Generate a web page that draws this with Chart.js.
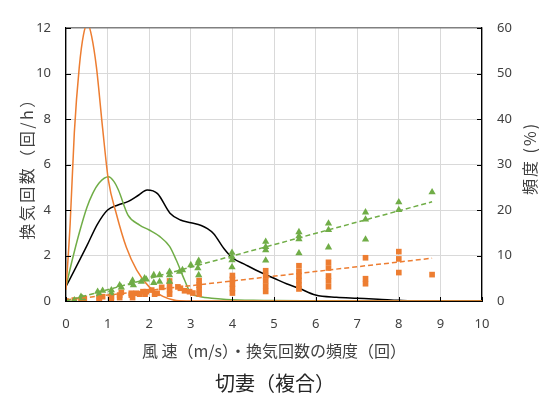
<!DOCTYPE html>
<html><head><meta charset="utf-8">
<script src="https://cdn.jsdelivr.net/npm/chart.js@4"></script>
<style>html,body{margin:0;padding:0;background:#fff}</style>
</head><body>
<canvas id="c" width="539" height="394"></canvas>
<script>
// ---- data ----
const xTickValues = [0,1,2,3,4,5,6,7,8,9,10];
const leftTickValues = [0,2,4,6,8,10,12];
const rightTickValues = [0,10,20,30,40,50,60];

// frequency curves (%), right axis
const blackX = [0,0.25,0.5,0.75,1.0,1.25,1.5,1.75,1.95,2.2,2.5,2.75,3.0,3.25,3.4,3.55,3.8,4.0,4.33,4.7,5.0,5.3,5.6,6.0,6.5,7.0,7.5,8.0,8.5,9,9.5,10];
const blackY = [3.2,7.6,12.1,16.8,20.0,21.1,21.9,23.3,24.4,23.6,19.3,17.8,17.2,16.6,15.9,14.8,11.5,9.5,7.9,6.2,5.0,3.8,2.8,1.3,0.8,0.6,0.4,0.15,0,0,0,0];
const greenX = [0,0.15,0.32,0.5,0.64,0.8,1.02,1.15,1.26,1.49,1.77,2.0,2.25,2.49,2.65,2.85,3.0,3.21,3.5,3.85,4.5,5,6,7,8,9,10];
const greenY = [3.2,9,15,20.5,23.6,26,27.3,26.3,24.4,18.9,16.7,15.6,14.2,12,9,4.6,1.7,1.0,0.6,0.35,0.15,0.1,0.05,0,0,0,0];
const orangeX = [0,0.1,0.2,0.32,0.42,0.52,0.62,0.73,0.88,1.02,1.2,1.45,1.7,2.0,2.33,2.65,3,4,5,6,7,8,9,10];
const orangeY = [2.5,17,37,51.5,58.5,61,58,51.5,38,26.5,19.5,11.8,6.8,3.1,1.0,0.1,0,0,0,0,0,0,0,0];

// air change rate points (回/h), left axis
const triX = [0,0.2,0.36,0.4,0.76,0.8,0.88,1.09,1.09,1.29,1.33,1.57,1.6,1.62,1.81,1.89,1.93,2.11,2.11,2.25,2.25,2.49,2.49,2.49,2.73,2.8,3.0,3.17,3.19,3.17,3.19,3.99,3.99,3.99,3.99,4.8,4.8,4.8,4.8,5.6,5.6,5.6,5.6,6.31,6.31,6.31,7.2,7.2,7.2,8.0,8.0,8.8];
const triY = [0,0.04,0.19,0.12,0.41,0.3,0.45,0.48,0.35,0.7,0.6,0.78,0.9,0.7,0.85,1.0,0.95,1.14,0.8,1.14,0.85,1.29,1.14,0.85,1.29,1.36,1.58,1.66,1.77,1.44,1.14,2.12,1.95,1.8,1.49,2.61,2.38,2.24,1.78,3.03,2.85,2.72,2.1,3.41,3.12,2.36,3.9,3.59,2.71,4.34,4.0,4.78];
const sqX = [0,0.2,0.36,0.44,0.8,0.8,0.8,0.88,1.09,1.09,1.29,1.29,1.33,1.57,1.57,1.6,1.69,1.77,1.85,1.9,2.13,1.93,2.06,2.19,2.3,2.49,2.49,2.49,2.49,2.69,2.75,2.85,2.97,3.05,3.2,3.2,3.2,3.2,4,4,4,4,4,4.8,4.8,4.8,4.8,4.8,5.6,5.6,5.6,5.6,5.6,5.6,6.31,6.31,6.31,6.31,6.31,7.2,7.2,7.2,8,8,8,8.8];
const sqY = [0,0.04,0.04,0.11,0.04,0.12,0.19,0.19,0.19,0.1,0.26,0.15,0.38,0.26,0.34,0.15,0.34,0.3,0.41,0.3,0.3,0.41,0.48,0.34,0.6,0.3,0.5,0.7,0.88,0.62,0.56,0.45,0.41,0.35,0.3,0.5,0.7,0.9,0.35,0.55,0.75,0.95,1.12,0.42,0.65,0.88,1.1,1.33,1.55,1.3,1.1,0.9,0.7,0.53,1.7,1.45,1.1,0.88,0.63,1.9,0.98,0.76,2.17,1.85,1.25,1.16];

// linear trend lines (end points)
const triTrendX = [0,8.8], triTrendY = [0,4.36];
const sqTrendX = [0,8.8], sqTrendY = [0.05,1.88];

const pts = (xs, ys) => xs.map((x,i)=>({x, y: ys[i]}));

const ORANGE = '#ED7D31', GREEN = '#70AD47', TXT = '#404040';
const TICKFONT = {family:'"Noto Sans", sans-serif', size:13};
const JP = '"Noto Sans CJK JP", "Noto Sans", sans-serif';
const TITLE = '切妻（複合）';

const deco = {
  id:'deco',
  afterDatasetsDraw(chart){
    const {ctx, chartArea:a, scales} = chart;
    ctx.save();
    ctx.strokeStyle = '#000'; ctx.lineWidth = 1;
    ctx.beginPath();
    scales.y.ticks.forEach(t=>{ const p = Math.round(scales.y.getPixelForValue(t.value))+0.5; ctx.moveTo(a.left, p); ctx.lineTo(a.left+5, p); });
    scales.y2.ticks.forEach(t=>{ const p = Math.round(scales.y2.getPixelForValue(t.value))+0.5; ctx.moveTo(a.right-5, p); ctx.lineTo(a.right, p); });
    scales.x.ticks.forEach(t=>{ const p = Math.round(scales.x.getPixelForValue(t.value))+0.5; ctx.moveTo(p, a.bottom); ctx.lineTo(p, a.bottom-4); });
    ctx.stroke();
    ctx.restore();
  },
  afterDraw(chart){
    const {ctx, chartArea:a} = chart;
    const cy = (a.top + a.bottom)/2;
    ctx.save();
    ctx.fillStyle = TXT;
    ctx.font = '16px ' + JP;
    ctx.textAlign = 'center'; ctx.textBaseline = 'middle';
    try { ctx.letterSpacing = '2.5px'; } catch(e) {}
    ctx.save(); ctx.translate(27, cy); ctx.rotate(-Math.PI/2); ctx.fillText('換気回数（回/h）', 0, 0); ctx.restore();
    try { ctx.letterSpacing = '2px'; } catch(e) {}
    ctx.save(); ctx.translate(530, cy - 6); ctx.rotate(-Math.PI/2); ctx.fillText('頻度 (%)', 0, 0); ctx.restore();
    try { ctx.letterSpacing = '0px'; } catch(e) {}
    ctx.fillStyle = '#262626';
    ctx.font = '20px ' + JP;
    ctx.fillText(TITLE, 275, 383);
    ctx.restore();
  }
};

const curve = (label, xs, ys, color, order) => ({
  type:'line', label, data: pts(xs, ys), yAxisID:'y2', borderColor: color, borderWidth: 1.5,
  pointRadius: 0, showLine: true, fill: false, cubicInterpolationMode: 'monotone', order
});

new Chart(document.getElementById('c'), {
  type: 'scatter',
  data: { datasets: [
    {type:'line', label:'近似(換気回数△)', data: pts(triTrendX, triTrendY), yAxisID:'y', borderColor: GREEN, borderWidth: 1.5, borderDash:[5,3], pointRadius:0, showLine:true, order:1},
    {type:'line', label:'近似(換気回数□)', data: pts(sqTrendX, sqTrendY), yAxisID:'y', borderColor: ORANGE, borderWidth: 1.5, borderDash:[5,3], pointRadius:0, showLine:true, order:1},
    {label:'換気回数△', data: pts(triX, triY), yAxisID:'y', pointStyle:'triangle', pointRadius:4.2, backgroundColor: GREEN, borderColor: GREEN, borderWidth:0, order:2},
    {label:'換気回数□', data: pts(sqX, sqY), yAxisID:'y', pointStyle:'rect', pointRadius:4, backgroundColor: ORANGE, borderColor: ORANGE, borderWidth:0, order:3},
    curve('風速頻度', blackX, blackY, '#000000', 6),
    curve('換気回数頻度△', greenX, greenY, GREEN, 5),
    curve('換気回数頻度□', orangeX, orangeY, ORANGE, 4),
  ]},
  options: {
    responsive: false, animation: false, devicePixelRatio: 1,
    layout: { padding: { top: 28, left: 0, right: 0, bottom: 0 } },
    plugins: {
      legend: { display: false }, tooltip: { enabled: false },
      title: { display: true, position: 'bottom', text: TITLE, color: 'rgba(0,0,0,0)',
               font: { family: JP, size: 20, weight: 'normal' }, padding: { top: 10, bottom: 0 } }
    },
    scales: {
      x: { type:'linear', min:0, max:10, position:'bottom',
           afterBuildTicks: s => { s.ticks = xTickValues.map(v=>({value:v})); },
           afterFit: s => { s.height = 59; },
           ticks: { color: TXT, font: TICKFONT, padding: 15, maxRotation: 0 },
           grid: { color:'#d9d9d9', lineWidth:1, drawTicks:false },
           border: { color:'#000', width:1 },
           title: { display:true, text:'風 速（m/s）・換気回数の頻度（回）', color: TXT, font:{family: JP, size:16}, padding:{top:0,bottom:-1} } },
      y: { type:'linear', min:0, max:12, position:'left',
           afterBuildTicks: s => { s.ticks = leftTickValues.map(v=>({value:v})); },
           afterFit: s => { s.width = 66; },
           ticks: { color: TXT, font: TICKFONT, padding: 15 },
           grid: { color: c => (c.tick && c.tick.value === 12) ? '#808080' : '#d9d9d9',
                   lineWidth: c => (c.tick && c.tick.value === 12) ? 1.5 : 1, drawTicks:false },
           border: { color:'#000', width:1.3 } },
      y2: { type:'linear', min:0, max:60, position:'right',
            afterBuildTicks: s => { s.ticks = rightTickValues.map(v=>({value:v})); },
            afterFit: s => { s.width = 57; },
            ticks: { color: TXT, font: TICKFONT, padding: 15 },
            grid: { drawOnChartArea:false, drawTicks:false },
            border: { color:'#000', width:1.3 } }
    }
  },
  plugins: [deco]
});
</script>
</body></html>
